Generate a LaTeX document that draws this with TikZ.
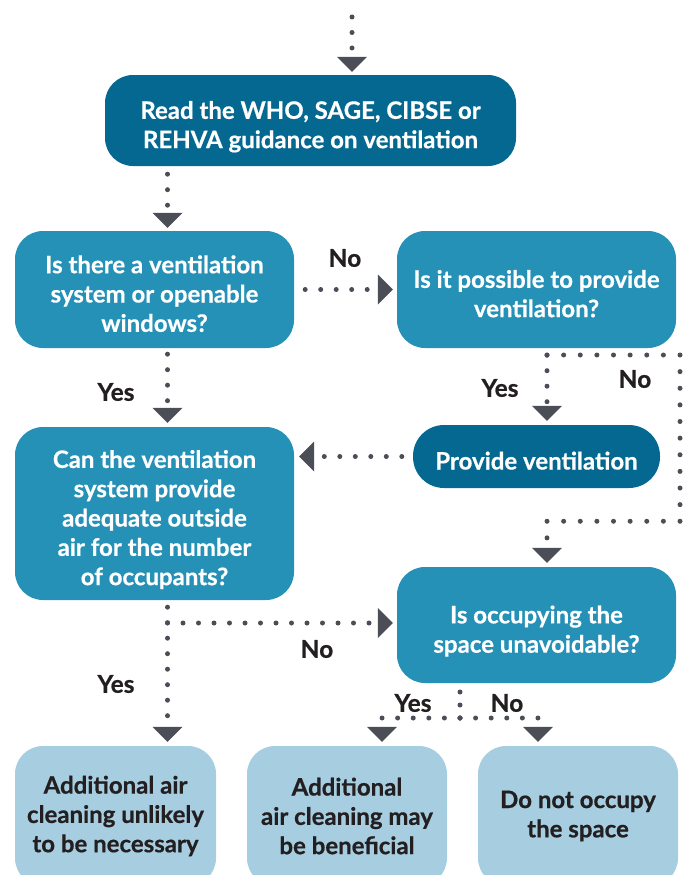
\documentclass[tikz,border=0pt]{standalone}
\usepackage{fontspec}
\newfontfamily\boxfont{Lato}[BoldFeatures={FakeBold=0.6}]
\usetikzlibrary{arrows.meta}
\definecolor{darkblue}{HTML}{046891}
\definecolor{midblue}{HTML}{2591B6}
\definecolor{lightblue}{HTML}{A6CDE0}
\definecolor{dotgray}{HTML}{4B4E57}
\definecolor{textdark}{HTML}{231F20}
\newcommand\topstrut{\rule{0pt}{32pt}}
\newcommand\botstrut{\rule[-6pt]{0pt}{6pt}}
\tikzset{
  box/.style={rectangle, rounded corners=28pt, align=center, inner sep=0pt,
    font=\boxfont\bfseries\fontsize{24}{29.3}\selectfont, text=white},
  darkbox/.style={box, fill=darkblue},
  midbox/.style={box, fill=midblue},
  lightbox/.style={box, fill=lightblue, text=textdark},
  lbl/.style={font=\boxfont\bfseries\fontsize{24.5}{28}\selectfont, text=textdark, inner sep=0pt},
  dots/.style={draw=dotgray, line width=5pt, line cap=round, dash pattern=on 0pt off #1},
  dots/.default=15.5pt,
  flow/.style={dots=#1, -{Triangle[width=30pt,length=15pt,line width=0pt]}},
  flow/.default=15.5pt
}
\begin{document}
\begin{tikzpicture}[x=1pt,y=-1pt]
\useasboundingbox (0,0) rectangle (692,875);
\begin{scope}
\clip (0,0) rectangle (692,875);
% boxes
\node[darkbox, minimum width=411pt, minimum height=91pt] (read) at (310.5,120.5)
  {\topstrut Read the WHO, SAGE, CIBSE or\\REHVA guidance on ventilation\botstrut};
\node[midbox, minimum width=279pt, minimum height=117pt] (exist) at (154.5,289.5)
  {\topstrut Is there a ventilation\\system or openable\\windows?\botstrut};
\node[midbox, minimum width=279pt, minimum height=117pt] (possible) at (536.5,289.5)
  {\topstrut Is it possible to provide\\ventilation?\botstrut};
\node[midbox, minimum width=279pt, minimum height=173pt] (adequate) at (154.5,513.5)
  {\topstrut Can the ventilation\\system provide\\adequate outside\\air for the number\\of occupants?\botstrut};
\node[darkbox, minimum width=247pt, minimum height=63pt, rounded corners=31pt] (provide) at (536.5,456.5)
  {\topstrut Provide ventilation\botstrut};
\node[midbox, minimum width=279pt, minimum height=116pt] (occupy) at (536.5,625)
  {\topstrut Is occupying the\\space unavoidable?\botstrut};
\node[lightbox, minimum width=201pt, minimum height=140pt] (unlikely) at (115.5,816)
  {Additional air\\cleaning unlikely\\to be necessary};
\node[lightbox, minimum width=200pt, minimum height=140pt] (beneficial) at (347,816)
  {Additional\\air cleaning may\\be beneficial};
\node[lightbox, minimum width=200pt, minimum height=140pt] (notoccupy) at (578,816)
  {Do not occupy\\the space};
\end{scope}
% helper coordinates
\coordinate (top) at (352,17);
\coordinate (colL) at (167.5,0);
\coordinate (colR) at (547,0);
\coordinate (j1) at (547,355);
\coordinate (r1) at (680,355);
\coordinate (r2) at (680,521.25);
\coordinate (j2) at (167.5,623);
\coordinate (j3) at (460,718);
\coordinate (yesx) at (382,0);
\coordinate (nox) at (538,0);
% connectors
\draw[flow, shorten >=3pt] (top) -- (read.north -| top);
\draw[flow, shorten <=8pt, shorten >=3pt] (read.south -| colL) -- (exist.north -| colL);
\draw[flow, shorten <=11pt, shorten >=4pt] (exist.east) -- (possible.west);
\draw[flow, shorten <=6pt, shorten >=4pt] (exist.south -| colL) -- (adequate.north -| colL);
\draw[flow, shorten <=7pt, shorten >=4pt] (possible.south -| colR) -- (provide.north -| colR);
\draw[flow=16.625pt, shorten >=4pt] (j1) -- (r1) -- (r2) -- (r2 -| colR) -- (occupy.north -| colR);
\draw[flow, shorten <=11pt, shorten >=5pt] (provide.west) -- (provide.west -| adequate.east);
\draw[flow, shorten <=7pt, shorten >=4pt] (adequate.south -| colL) -- (unlikely.north -| colL);
\draw[flow, shorten >=4pt] (j2) -- (j2 -| occupy.west);
\draw[dots=13pt, shorten >=8pt] (j3) -- (occupy.south -| j3);
\draw[flow=15.59pt, shorten >=4pt] (j3) -- (j3 -| yesx) -- (beneficial.north -| yesx);
\draw[flow=15.59pt, shorten >=4pt] (j3) -- (j3 -| nox) -- (notoccupy.north -| nox);
% labels
\node[lbl] (l1) at (345,258) {No};
\node[lbl] (l2) at (116,392) {Yes};
\node[lbl] (l3) at (500,388) {Yes};
\node[lbl] (l4) at (635,379) {No};
\node[lbl] (l5) at (317,649) {No};
\node[lbl] (l6) at (116,684) {Yes};
\node[lbl] (l7) at (413,703) {Yes};
\node[lbl] (l8) at (507,703) {No};
\end{tikzpicture}
\end{document}
